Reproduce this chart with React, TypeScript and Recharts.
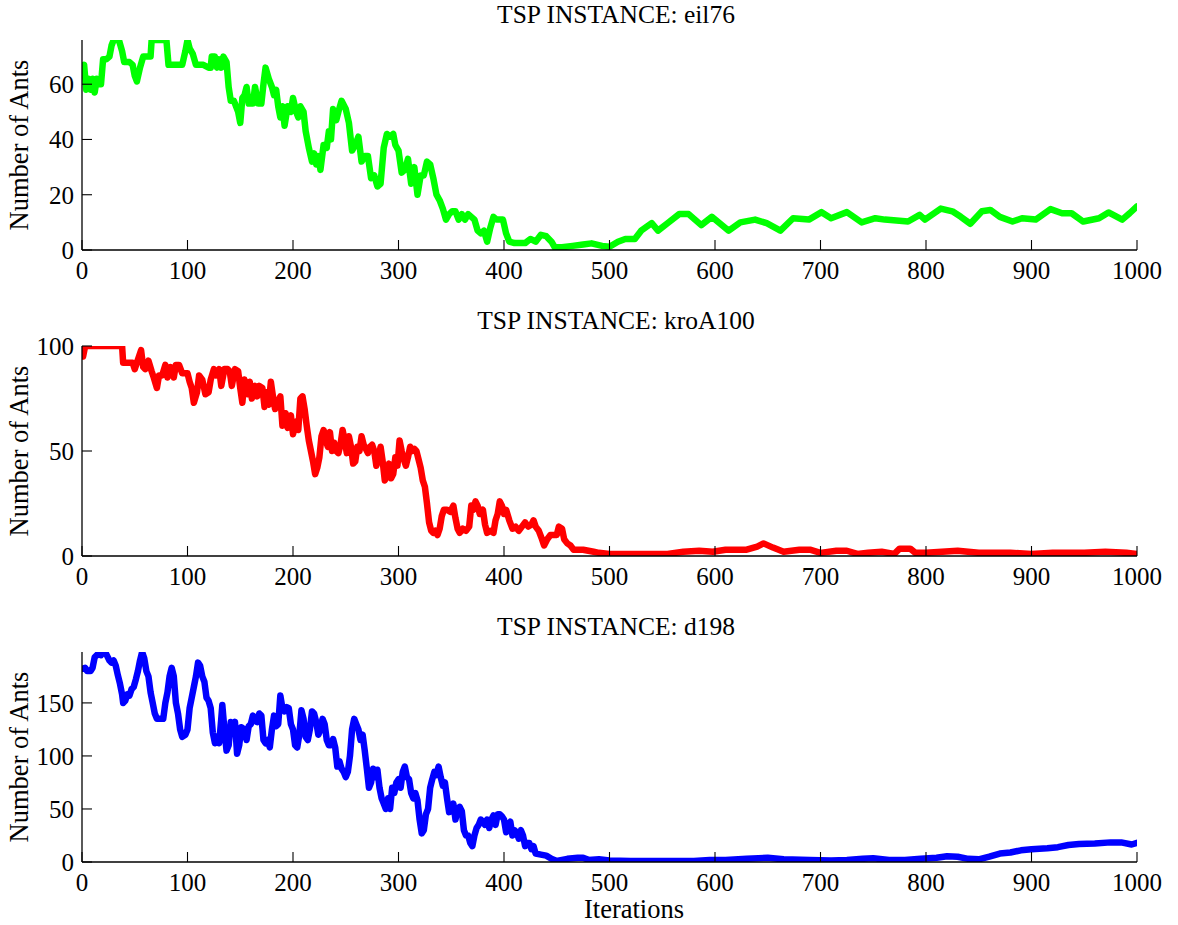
import React from 'react';
import { LineChart, Line, XAxis, YAxis } from 'recharts';

// [iteration, number of ants]
const eil76Ants: [number, number][] = [
  [0,66],[2,67],[4,58],[6,62],[8,58],[10,62],[12,57],[14,62],[16,60],[18,60],[20,69],[23,69],[26,70],[28,74],[30,76],[35,76],[38,72],[40,68],[45,68],[48,67],[50,63],[52,61],[55,66],[58,70],[62,70],[65,70],[66,76],[75,76],[80,76],[82,67],[90,67],[95,67],[98,72],[100,76],[102,73],[105,71],[108,67],[115,67],[120,66],[122,66],[123,70],[126,70],[128,66],[130,69],[132,66],[134,70],[137,68],[139,59],[141,54],[144,54],[146,52],[148,50],[150,46],[152,55],[154,56],[156,59],[158,53],[162,53],[164,59],[167,53],[170,53],[172,60],[174,66],[177,62],[180,59],[182,56],[184,58],[186,52],[188,48],[190,52],[192,45],[195,52],[198,50],[200,55],[203,50],[205,48],[207,52],[210,50],[212,43],[215,37],[218,32],[220,35],[222,31],[224,34],[226,29],[229,38],[232,37],[234,43],[236,40],[238,51],[241,47],[243,50],[246,54],[250,51],[253,46],[256,36],[259,38],[262,41],[265,32],[268,34],[271,34],[274,26],[277,27],[280,23],[283,24],[286,37],[289,42],[292,41],[295,42],[297,38],[300,36],[303,28],[306,29],[309,33],[312,24],[315,30],[318,20],[321,27],[324,27],[327,32],[330,31],[333,26],[336,20],[339,18],[342,15],[345,11],[348,13],[351,14],[354,14],[357,11],[360,13],[363,11],[366,13],[369,12],[372,11],[375,7],[378,6],[381,7],[384,3],[387,8],[390,12],[393,11],[396,11],[399,11],[402,6],[405,3],[410,2.5],[415,2.5],[420,2.5],[425,4],[430,3],[435,5.5],[440,5],[445,3],[448,1],[455,1],[465,1.5],[475,2],[483,2.4],[493,1.5],[500,1.2],[508,3],[515,4],[524,4],[530,7],[540,9.7],[546,7],[555,9.7],[566,13],[575,13],[587,9],[597,12],[613,7],[624,10],[638,11],[649,9.7],[662,7],[674,11.5],[689,11],[701,13.7],[710,11.5],[725,13.7],[739,10],[752,11.5],[761,11],[783,10.3],[794,12.7],[799,11],[814,15],[825,14],[833,12],[842,9.5],[853,14],[861,14.5],[870,12],[882,10.3],[891,11.5],[904,11],[918,14.8],[929,13.3],[938,13.3],[949,10.3],[964,11.5],[973,13.6],[986,11],[993,13.3],[1000,15.8]
];

const kroA100Ants: [number, number][] = [
  [0,97],[1,95],[3,100],[38,100],[39,92],[48,92],[50,89],[54,95],[56,98],[58,90],[60,89],[63,93],[66,88],[68,85],[71,80],[73,86],[76,86],[79,91],[81,85],[84,90],[87,85],[89,91],[92,91],[95,87],[100,87],[102,83],[104,80],[106,73],[109,78],[111,86],[114,84],[117,77],[120,78],[122,84],[125,89],[127,86],[130,89],[132,81],[135,89],[138,89],[140,88],[142,81],[145,89],[148,88],[150,80],[152,73],[154,84],[157,77],[159,83],[161,75],[164,81],[166,76],[168,81],[171,80],[173,71],[175,78],[177,72],[179,83],[181,76],[183,70],[186,74],[188,76],[190,62],[193,68],[195,61],[198,67],[200,58],[203,64],[205,60],[207,75],[209,76],[211,70],[213,62],[215,55],[217,50],[219,45],[221,39],[223,42],[225,47],[227,57],[229,60],[231,55],[233,52],[235,59],[237,50],[239,54],[241,50],[243,49],[245,53],[247,60],[249,55],[251,49],[253,57],[255,52],[257,44],[259,45],[261,52],[263,50],[265,57],[267,53],[269,51],[271,49],[273,52],[275,53],[277,50],[279,43],[281,47],[283,52],[285,45],[287,36],[289,38],[291,44],[293,37],[295,39],[297,47],[299,43],[301,55],[303,50],[305,46],[307,43],[309,47],[311,52],[313,50],[315,51],[317,50],[319,46],[321,42],[323,36],[325,33],[327,25],[329,16],[331,12],[333,11],[335,12],[337,10],[339,13],[341,19],[343,22],[346,22],[349,21],[352,24],[354,18],[356,13],[358,11],[361,13],[364,12],[367,14],[369,24],[371,22],[373,26],[375,24],[377,20],[380,22],[382,15],[384,11],[387,12],[390,11],[392,17],[394,20],[396,26],[398,24],[400,20],[402,22],[405,17],[408,13],[411,14],[414,12],[417,14],[420,16],[423,14],[426,15],[428,17],[430,14],[433,12],[436,8],[438,5],[441,8],[444,10],[447,10],[450,10],[452,14],[455,13],[457,8],[460,6],[463,5],[466,3],[470,3],[475,3],[480,2.5],[485,2],[490,1.5],[500,1],[530,1],[555,1],[570,2],[585,2.5],[598,2],[610,3],[630,3],[640,4.5],[646,6],[655,4],[665,2],[680,3],[690,3],[700,1.5],[715,2.5],[725,2.5],[735,1],[745,1.5],[758,2],[770,1],[775,3.5],[785,3.5],[790,1.5],[800,1.5],[830,2.5],[850,1.5],[880,1.5],[900,1],[920,1.5],[950,1.5],[970,2],[990,1.5],[1000,1]
];

const d198Ants: [number, number][] = [
  [0,182],[3,183],[5,180],[8,180],[10,183],[12,193],[15,196],[18,195],[20,198],[23,196],[26,190],[28,188],[30,190],[32,185],[34,176],[36,168],[38,158],[39,150],[41,152],[43,158],[45,157],[47,163],[49,165],[51,172],[53,180],[55,190],[57,198],[59,192],[61,180],[63,175],[65,160],[67,150],[69,140],[71,135],[74,135],[77,135],[79,150],[81,160],[83,175],[85,183],[87,175],[89,150],[91,140],[93,125],[95,118],[98,120],[100,125],[102,145],[104,155],[106,165],[108,175],[110,188],[112,185],[114,175],[116,170],[118,155],[120,152],[122,145],[124,122],[126,112],[128,118],[130,112],[132,135],[133,148],[135,125],[137,105],[139,110],[141,132],[143,128],[145,132],[147,102],[149,110],[151,127],[154,125],[156,115],[158,128],[160,130],[162,138],[164,133],[166,132],[168,140],[170,138],[172,115],[174,112],[176,115],[178,108],[180,125],[182,138],[184,128],[186,130],[188,157],[190,145],[192,142],[194,146],[196,145],[198,130],[200,125],[202,110],[204,108],[206,120],[208,143],[210,135],[212,118],[214,115],[216,125],[218,142],[220,140],[222,132],[224,120],[226,125],[228,135],[230,130],[232,115],[234,110],[236,110],[238,116],[240,108],[242,90],[244,95],[246,88],[248,85],[250,80],[252,85],[254,100],[256,125],[258,135],[260,130],[262,125],[264,115],[266,120],[268,105],[270,88],[272,70],[274,75],[276,88],[278,80],[280,87],[282,70],[284,60],[286,55],[288,50],[290,60],[292,50],[294,70],[296,65],[298,75],[300,78],[302,70],[304,85],[306,90],[308,80],[310,78],[312,65],[314,60],[316,65],[318,58],[320,40],[322,27],[324,30],[326,45],[328,50],[330,70],[332,78],[334,85],[336,82],[338,90],[340,80],[342,72],[344,75],[346,60],[348,47],[350,48],[352,55],[354,40],[356,50],[358,52],[360,48],[362,30],[364,25],[366,25],[368,18],[370,15],[372,25],[374,32],[376,35],[378,40],[380,38],[382,35],[384,40],[386,32],[388,40],[390,44],[392,35],[394,45],[396,45],[398,43],[400,40],[402,28],[404,35],[406,38],[408,25],[410,30],[412,28],[414,22],[416,30],[418,25],[420,15],[422,18],[424,18],[426,12],[428,15],[430,8],[435,7],[440,6],[445,3],[450,1],[455,2],[460,3],[470,4],[475,4],[480,2],[490,2.5],[500,1.5],[520,1],[550,1],[580,1],[595,2],[610,2],[630,3],[650,4],[665,2.5],[690,2],[710,1.5],[725,2],[740,3],[750,3.5],[765,2],[780,2],[795,3],[810,4],[820,5.5],[830,5],[840,3],[850,2.5],[860,5],[870,8],[880,9],[890,11],[900,12],[915,13],[925,14],[935,16],[945,17],[960,17.5],[975,18.5],[985,18.5],[995,16.5],[1000,18]
];

const iterationTicks = [0, 100, 200, 300, 400, 500, 600, 700, 800, 900, 1000];
const eil76Ticks = [0, 20, 40, 60];
const kroA100Ticks = [0, 50, 100];
const d198Ticks = [0, 50, 100, 150];

const titles = ['TSP INSTANCE: eil76', 'TSP INSTANCE: kroA100', 'TSP INSTANCE: d198'];
const yLabel = 'Number of Ants';
const xLabel = 'Iterations';

const FONT = 'Liberation Serif, DejaVu Serif, serif';
const FS = 25;
const TITLE_FS = 25.5;
const LABEL_FS = 26.5;

type PanelProps = {
  top: number;
  series: [number, number][];
  color: string;
  yMax: number;
  yTicks: number[];
};

function Panel({ top, series, color, yMax, yTicks }: PanelProps) {
  const data = series.map(([it, v]) => ({ it, v }));
  const axisLine = { stroke: '#000', strokeWidth: 1.3 };
  const tickLine = { stroke: '#000', strokeWidth: 1.1 };
  const tickStyle = { fill: '#000', fontSize: FS, fontFamily: FONT };
  return (
    <div style={{ position: 'absolute', left: 0, top }}>
      <LineChart width={1178} height={300} data={data} margin={{ top: 40, right: 41, bottom: 20, left: 0 }}
        style={{ fontFamily: FONT }}>
        <XAxis xAxisId="b" dataKey="it" type="number" domain={[0, 1000]} ticks={iterationTicks} interval={0}
          allowDataOverflow tickSize={-10} tickMargin={21} height={30}
          axisLine={axisLine} tickLine={tickLine} tick={tickStyle} />
        <XAxis xAxisId="t" orientation="top" dataKey="it" type="number" domain={[0, 1000]} ticks={iterationTicks} interval={0}
          allowDataOverflow tickSize={-10} height={0} axisLine={axisLine} tickLine={tickLine} tick={false} />
        <YAxis yAxisId="l" type="number" domain={[0, yMax]} ticks={yTicks} interval={0}
          allowDataOverflow tickSize={-10} tickMargin={18} width={82}
          axisLine={axisLine} tickLine={tickLine} tick={tickStyle} />
        <YAxis yAxisId="r" orientation="right" type="number" domain={[0, yMax]} ticks={yTicks} interval={0}
          allowDataOverflow tickSize={-10} width={0} axisLine={axisLine} tickLine={tickLine} tick={false} />
        <Line xAxisId="b" yAxisId="l" dataKey="v" stroke={color} strokeWidth={6.5} dot={false} activeDot={false}
          strokeLinejoin="round" strokeLinecap="round" isAnimationActive={false} />
        <Line xAxisId="t" yAxisId="r" dataKey="v" stroke="none" dot={false} activeDot={false} isAnimationActive={false} />
      </LineChart>
    </div>
  );
}

export default function App() {
  const panelTops = [0, 306, 612];
  return (
    <div style={{ position: 'absolute', left: 0, top: 0, width: 1178, height: 925, background: '#fff', fontFamily: FONT }}>
      <Panel top={panelTops[0]} series={eil76Ants} color="#00ff00" yMax={76} yTicks={eil76Ticks} />
      <Panel top={panelTops[1]} series={kroA100Ants} color="#ff0000" yMax={100} yTicks={kroA100Ticks} />
      <Panel top={panelTops[2]} series={d198Ants} color="#0000ff" yMax={198} yTicks={d198Ticks} />
      <svg width={1178} height={925} style={{ position: 'absolute', left: 0, top: 0, pointerEvents: 'none' }}>
        {titles.map((t, i) => (
          <text key={t} x={616} y={23 + panelTops[i]} textAnchor="middle" fontFamily={FONT} fontSize={TITLE_FS} fill="#000">{t}</text>
        ))}
        {panelTops.map((pt, i) => (
          <text key={'yl' + i} transform={`translate(28, ${145 + pt}) rotate(-90)`} textAnchor="middle" fontFamily={FONT} fontSize={LABEL_FS} fill="#000">{yLabel}</text>
        ))}
        <text x={634} y={918} textAnchor="middle" fontFamily={FONT} fontSize={LABEL_FS} fill="#000">{xLabel}</text>
      </svg>
    </div>
  );
}
